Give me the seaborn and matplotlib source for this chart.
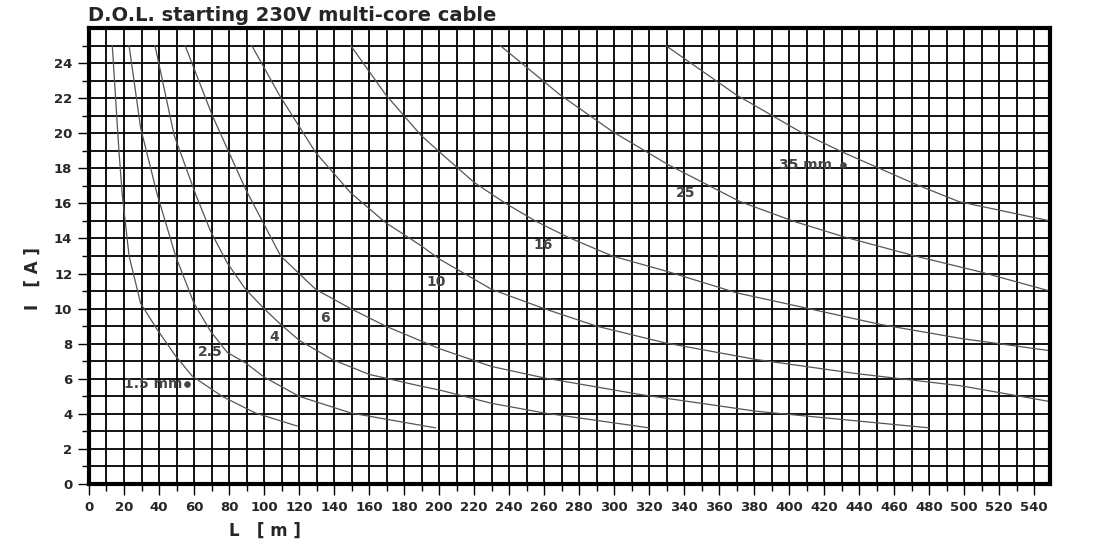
import matplotlib
matplotlib.use("Agg")
import matplotlib.pyplot as plt
import seaborn as sns
import pandas as pd
from matplotlib.ticker import MultipleLocator, FixedLocator

sizes = ["1.5", "2.5", "4", "6", "10", "16", "25", "35"]
L_15 = [13.3, 17.1, 19, 22.9, 29.5, 39, 49.5, 59, 76, 95, 119]
I_15 = [25, 19, 16.5, 13, 10.3, 8.8, 7.3, 6.15, 5.0, 4.05, 3.3]
L_25 = [22.9, 29.5, 39, 49.5, 60, 69.5, 79, 89.5, 100, 120, 149.5, 198]
I_25 = [25, 20.3, 16.5, 13, 10.3, 8.7, 7.5, 6.9, 6.1, 5.0, 4.05, 3.2]
L_4 = [37.7, 48.6, 61, 69.5, 79, 89.5, 100, 109.5, 120, 139, 160, 188.6, 200.6, 230, 260, 320]
I_4 = [25, 19.9, 16.5, 14.4, 12.6, 11.1, 10, 9.1, 8.2, 7.1, 6.25, 5.6, 5.35, 4.6, 4.05, 3.2]
L_6 = [54.9, 70.5, 89.5, 109.5, 129.5, 149.5, 169.5, 200.6, 230, 260, 315, 381, 480]
I_6 = [25, 21, 16.8, 13, 11.1, 10, 9, 7.7, 6.7, 6.05, 5.1, 4.15, 3.2]
L_10 = [93, 108.6, 129.5, 149.5, 169.5, 189.5, 200.6, 230, 260, 290, 329, 381, 438, 498, 549]
I_10 = [25, 22.2, 18.9, 16.6, 14.9, 13.6, 12.8, 11.1, 10, 9, 8.05, 7.1, 6.3, 5.6, 4.7]
L_16 = [149.5, 169.5, 189.5, 200.6, 220, 238, 255, 273, 299, 331, 370, 402, 452, 498, 549]
I_16 = [25, 22.2, 19.9, 18.9, 17.2, 16, 15, 14.1, 13, 12.1, 10.9, 10.2, 9.1, 8.3, 7.6]
L_25b = [234.9, 269, 299, 331, 372, 402, 431, 472, 509, 549]
I_25b = [25, 22.2, 20.1, 18.2, 16.1, 15, 14.1, 13, 12.1, 11]
L_35 = [329.5, 369.6, 406, 431, 472, 497, 549]
I_35 = [25, 22.2, 20.1, 18.9, 17.1, 16.1, 15]

y_ticks = [0, 2, 4, 6, 8, 10, 12, 14, 16, 18, 20, 22, 24]

curves = [(L_15, I_15), (L_25, I_25), (L_4, I_4), (L_6, I_6), (L_10, I_10),
          (L_16, I_16), (L_25b, I_25b), (L_35, I_35)]
rows = []
for s, (Ls, Is) in zip(sizes, curves):
    for l, i in sorted(zip(Ls, Is)):
        rows.append({"size": s, "L": l, "I": i})
df = pd.DataFrame(rows)

label_text = ["1.5 mm", "2.5", "4", "6", "10", "16", "25", "35 mm"]
label_x = [20, 62, 103, 132, 193, 254, 335, 394]
label_y = [5.7, 7.5, 8.4, 9.45, 11.5, 13.6, 16.6, 18.2]
dot_x = [56, 431]
dot_y = [5.7, 18.2]

sns.set_theme(style="white")
plt.rcParams['font.family'] = ['DejaVu Sans']
fig = plt.figure(figsize=(10.96, 5.47), dpi=100)
ax = fig.add_axes([0.0812, 0.1152, 0.8768, 0.8336])

sns.lineplot(data=df, x="L", y="I", units="size", estimator=None, sort=False,
             color="#555555", linewidth=0.9, ax=ax)

ax.set_xlim(0, 549)
ax.set_ylim(0, 26.0)
ax.xaxis.set_major_locator(MultipleLocator(20))
ax.xaxis.set_minor_locator(MultipleLocator(10))
ax.yaxis.set_major_locator(FixedLocator(y_ticks))
ax.yaxis.set_minor_locator(FixedLocator(list(range(1, 26, 2))))
ax.grid(True, which="both", color="black", linewidth=1.3)
ax.set_axisbelow(True)
for side in ["left", "bottom", "top", "right"]:
    ax.spines[side].set_color("black")
    ax.spines[side].set_linewidth(3)
ax.tick_params(which="both", direction="out", length=8, width=1, color="black",
               labelsize=9.5, pad=4, left=True, bottom=True)
ax.tick_params(which="minor", length=5)
for t in ax.get_xticklabels() + ax.get_yticklabels():
    t.set_fontweight("bold")
ax.set_xlabel("")
ax.set_ylabel("")

for t, x, y in zip(label_text, label_x, label_y):
    ax.text(x, y, t, fontsize=10, fontweight="bold", color="#444444",
            ha="left", va="center")
ax.scatter(dot_x, dot_y, s=14, color="#444444", zorder=5)

fig.text(0.080, 0.972, "D.O.L. starting 230V multi-core cable", fontsize=14,
         fontweight="bold", ha="left", va="center")
fig.text(0.242, 0.030, "L   [ m ]", fontsize=12, fontweight="bold", ha="center", va="center")
fig.text(0.030, 0.49, "I   [ A ]", fontsize=12, fontweight="bold", ha="center",
         va="center", rotation=90)

fig.savefig("out.png", dpi=100)
